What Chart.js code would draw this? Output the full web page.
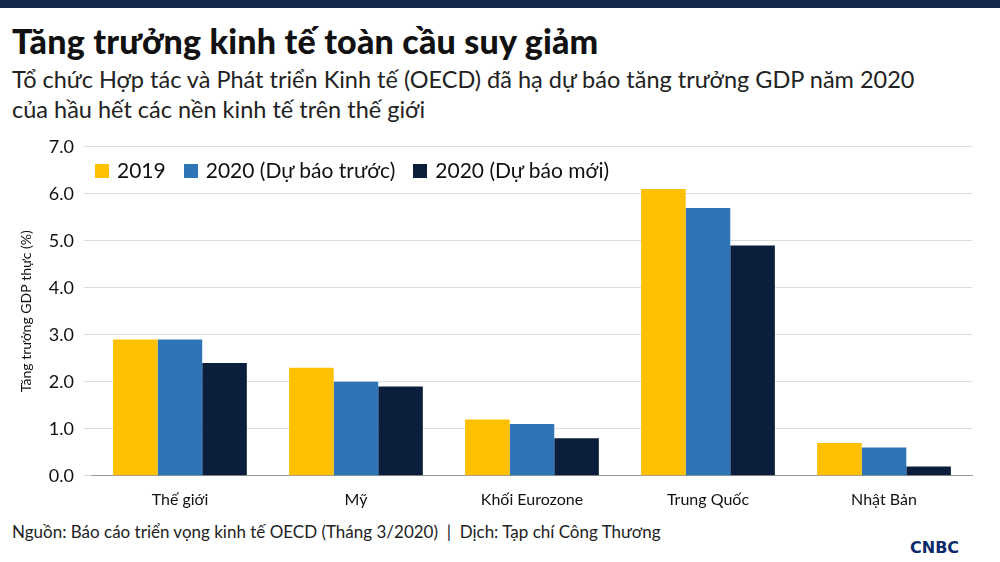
<!DOCTYPE html>
<html><head><meta charset="utf-8">
<script src="https://cdn.jsdelivr.net/npm/chart.js@4/dist/chart.umd.min.js"></script>
<style>
body{margin:0;width:1000px;height:562px;background:#fff;font-family:Lato,"Open Sans",sans-serif;position:relative;overflow:hidden}
#bar{position:absolute;left:0;top:0;width:1000px;height:8px;background:#14284b}
#t{position:absolute;left:12px;top:20px;font-size:34px;font-weight:900;color:#111;letter-spacing:0.2px}
#s{position:absolute;left:12px;top:64px;font-size:23.5px;line-height:30px;color:#222}
#c{position:absolute;left:14px;top:126px;width:978px;height:389px}
#lg{position:absolute;left:95px;top:157px;font-size:21px;color:#111;display:flex;gap:18px}
#lg span i{display:inline-block;width:14px;height:14px;margin-right:8px}
#src{position:absolute;left:12px;top:521px;font-size:17px;color:#222}
#logo{position:absolute;left:910px;top:538px;font-size:16px;font-weight:900;color:#0a2a6a;font-family:"DejaVu Sans",sans-serif}
</style></head><body>
<div id="bar"></div>
<div id="t">Tăng trưởng kinh tế toàn cầu suy giảm</div>
<div id="s">Tổ chức Hợp tác và Phát triển Kinh tế (OECD) đã hạ dự báo tăng trưởng GDP năm 2020<br>của hầu hết các nền kinh tế trên thế giới</div>
<div id="c"><canvas id="cv"></canvas></div>
<div id="lg"></div>
<div id="src">Nguồn: Báo cáo triển vọng kinh tế OECD (Tháng 3/2020) &nbsp;|&nbsp; Dịch: Tạp chí Công Thương</div>
<div id="logo">CNBC</div>
<script>
const categories=["Thế giới","Mỹ","Khối Eurozone","Trung Quốc","Nhật Bản"];
const s2019=[2.9,2.3,1.2,6.1,0.7];
const s2020old=[2.9,2.0,1.1,5.7,0.6];
const s2020new=[2.4,1.9,0.8,4.9,0.2];
const seriesNames=["2019","2020 (Dự báo trước)","2020 (Dự báo mới)"];
const colors=['#FFC000','#2E75B6','#0B1F3D'];
document.getElementById('lg').innerHTML=seriesNames.map((n,i)=>`<span><i style="background:${colors[i]}"></i>${n}</span>`).join('');
new Chart(document.getElementById('cv'),{type:'bar',
data:{labels:categories,datasets:[
{label:seriesNames[0],data:s2019,backgroundColor:colors[0]},
{label:seriesNames[1],data:s2020old,backgroundColor:colors[1]},
{label:seriesNames[2],data:s2020new,backgroundColor:colors[2]}]},
options:{responsive:true,maintainAspectRatio:false,animation:false,
datasets:{bar:{categoryPercentage:0.76,barPercentage:1}},
plugins:{legend:{display:false},tooltip:{enabled:false}},
layout:{padding:{top:10,right:20}},
scales:{x:{grid:{display:false},border:{color:'#999'},ticks:{font:{size:16,family:'Lato'},color:'#111',padding:6}},
y:{min:0,max:7,ticks:{stepSize:1,callback:v=>v.toFixed(1),font:{size:18,family:'Lato'},color:'#111',padding:10},grid:{color:'#ddd'},border:{display:false},
title:{display:true,text:'Tăng trưởng GDP thực (%)',font:{size:14,family:'Lato'},color:'#111'}}}}});
</script>
</body></html>
